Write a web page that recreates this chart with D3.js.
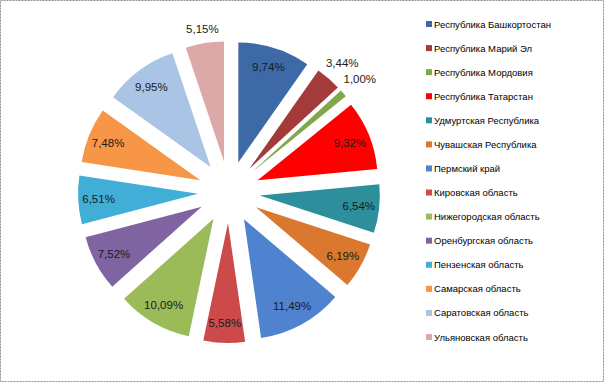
<!DOCTYPE html>
<html><head><meta charset="utf-8">
<script src="https://cdn.jsdelivr.net/npm/d3@7"></script>
<style>body{margin:0;background:#fff}svg{display:block}</style>
</head><body>
<script>
const categories = ["Республика Башкортостан","Республика Марий Эл","Республика Мордовия","Республика Татарстан","Удмуртская Республика","Чувашская Республика","Пермский край","Кировская область","Нижегородская область","Оренбургская область","Пензенская область","Самарская область","Саратовская область","Ульяновская область"];
const values = [9.74,3.44,1.00,9.32,6.54,6.19,11.49,5.58,10.09,7.52,6.51,7.48,9.95,5.15];
const labels = ["9,74%","3,44%","1,00%","9,32%","6,54%","6,19%","11,49%","5,58%","10,09%","7,52%","6,51%","7,48%","9,95%","5,15%"];
const colors = ["#3D6AA6","#A33B3A","#80A84A","#FF0000","#2E8F9C","#D9782E","#5083CF","#CD4A4A","#9BBB59","#8064A2","#40AED6","#F79646","#A9C4E4","#DDA8A8"];
const outsideLabels = new Set([1,2,13]);

const W=604,H=382;
const svg=d3.select("body").append("svg").attr("width",W).attr("height",H);
svg.append("rect").attr("x",0.5).attr("y",0.5).attr("width",W-1).attr("height",H-1)
  .attr("fill","#fff").attr("stroke","#8c8c8c").attr("stroke-dasharray","2,1");

const cx=229, cy=192, r=120, explode=31;
const pie=d3.pie().sort(null).value(d=>d)(values);
const arc=d3.arc().innerRadius(0).outerRadius(r);
const g=svg.append("g").attr("transform",`translate(${cx},${cy})`);

pie.forEach((p,i)=>{
  const mid=(p.startAngle+p.endAngle)/2;
  const dx=explode*Math.sin(mid), dy=-explode*Math.cos(mid);
  const sg=g.append("g").attr("transform",`translate(${dx},${dy})`);
  sg.append("path").attr("d",arc(p)).attr("fill",colors[i]);
  let dist;
  const fs=11.5;
  if(outsideLabels.has(i)){
    const w=labels[i].length*6.2, h=12;
    dist=r+Math.abs(Math.sin(mid))*w/2+Math.abs(Math.cos(mid))*h/2+6;
  } else dist=r*0.83;
  sg.append("text").attr("x",dist*Math.sin(mid)).attr("y",-dist*Math.cos(mid))
    .attr("text-anchor","middle").attr("dominant-baseline","central")
    .attr("font-family","Liberation Sans, Arial, sans-serif").attr("font-size",fs)
    .attr("fill","#1a1a1a").text(labels[i]);
});

const leg=svg.append("g");
const ly=d3.scaleLinear().domain([0,categories.length-1]).range([24,337]);
categories.forEach((c,i)=>{
  leg.append("rect").attr("x",426).attr("y",ly(i)-3).attr("width",6).attr("height",6).attr("fill",colors[i]);
  leg.append("text").attr("x",434).attr("y",ly(i)).attr("dominant-baseline","central")
    .attr("font-family","Liberation Sans, Arial, sans-serif").attr("font-size",9.5)
    .attr("fill","#000").text(c);
});
</script>
</body></html>
